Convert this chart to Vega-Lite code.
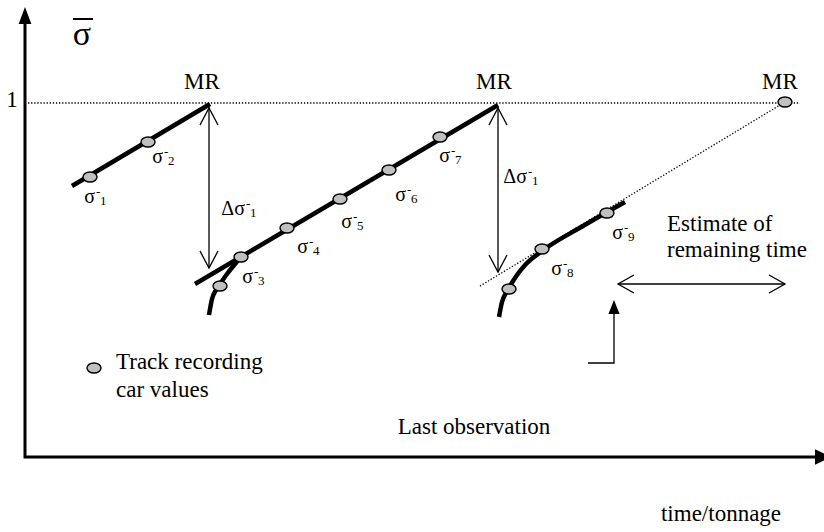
{
  "$schema": "https://vega.github.io/schema/vega-lite/v6.json",
  "width": 824,
  "height": 532,
  "padding": 0,
  "autosize": {"type": "fit", "contains": "padding"},
  "background": "white",
  "config": {"view": {"stroke": null}},
  "datasets": {
    "lines": [
      {"seg": "axes", "kind": "axis", "i": 0, "x": 25, "y": 510},
      {"seg": "axes", "kind": "axis", "i": 1, "x": 25, "y": 75},
      {"seg": "axes", "kind": "axis", "i": 2, "x": 816, "y": 75},
      {"seg": "over", "kind": "over", "i": 0, "x": 73, "y": 513},
      {"seg": "over", "kind": "over", "i": 1, "x": 93, "y": 513},
      {"seg": "ref", "kind": "dot", "i": 0, "x": 28, "y": 429},
      {"seg": "ref", "kind": "dot", "i": 1, "x": 800, "y": 429},
      {"seg": "est", "kind": "dot", "i": 0, "x": 480, "y": 246},
      {"seg": "est", "kind": "dot", "i": 1, "x": 785, "y": 430},
      {"seg": "s1", "kind": "thick", "i": 0, "x": 72, "y": 346},
      {"seg": "s1", "kind": "thick", "i": 1, "x": 210, "y": 428},
      {"seg": "s2", "kind": "thick", "i": 0, "x": 195, "y": 248},
      {"seg": "s2", "kind": "thick", "i": 1, "x": 498, "y": 427},
      {"seg": "c1", "kind": "curve", "i": 0, "x": 209, "y": 217},
      {"seg": "c1", "kind": "curve", "i": 1, "x": 212, "y": 233},
      {"seg": "c1", "kind": "curve", "i": 2, "x": 216, "y": 242},
      {"seg": "c1", "kind": "curve", "i": 3, "x": 220, "y": 248},
      {"seg": "c1", "kind": "curve", "i": 4, "x": 227, "y": 258},
      {"seg": "c1", "kind": "curve", "i": 5, "x": 235, "y": 268},
      {"seg": "c1", "kind": "curve", "i": 6, "x": 241, "y": 275},
      {"seg": "c2", "kind": "curve", "i": 0, "x": 499, "y": 215},
      {"seg": "c2", "kind": "curve", "i": 1, "x": 502, "y": 230},
      {"seg": "c2", "kind": "curve", "i": 2, "x": 506, "y": 239},
      {"seg": "c2", "kind": "curve", "i": 3, "x": 510, "y": 246},
      {"seg": "c2", "kind": "curve", "i": 4, "x": 517, "y": 257},
      {"seg": "c2", "kind": "curve", "i": 5, "x": 526, "y": 268},
      {"seg": "c2", "kind": "curve", "i": 6, "x": 542, "y": 281},
      {"seg": "c2", "kind": "curve", "i": 7, "x": 583, "y": 306},
      {"seg": "c2", "kind": "curve", "i": 8, "x": 625, "y": 330},
      {"seg": "a1", "kind": "thin", "i": 0, "x": 209, "y": 425},
      {"seg": "a1", "kind": "thin", "i": 1, "x": 209, "y": 264},
      {"seg": "a1t", "kind": "thin", "i": 0, "x": 200, "y": 407},
      {"seg": "a1t", "kind": "thin", "i": 1, "x": 209, "y": 424},
      {"seg": "a1t", "kind": "thin", "i": 2, "x": 218, "y": 407},
      {"seg": "a1b", "kind": "thin", "i": 0, "x": 200, "y": 281},
      {"seg": "a1b", "kind": "thin", "i": 1, "x": 209, "y": 264},
      {"seg": "a1b", "kind": "thin", "i": 2, "x": 218, "y": 281},
      {"seg": "a2", "kind": "thin", "i": 0, "x": 498, "y": 425},
      {"seg": "a2", "kind": "thin", "i": 1, "x": 498, "y": 260},
      {"seg": "a2t", "kind": "thin", "i": 0, "x": 489, "y": 407},
      {"seg": "a2t", "kind": "thin", "i": 1, "x": 498, "y": 424},
      {"seg": "a2t", "kind": "thin", "i": 2, "x": 507, "y": 407},
      {"seg": "a2b", "kind": "thin", "i": 0, "x": 489, "y": 277},
      {"seg": "a2b", "kind": "thin", "i": 1, "x": 498, "y": 260},
      {"seg": "a2b", "kind": "thin", "i": 2, "x": 507, "y": 277},
      {"seg": "h", "kind": "thin", "i": 0, "x": 618, "y": 248},
      {"seg": "h", "kind": "thin", "i": 1, "x": 785, "y": 248},
      {"seg": "hl", "kind": "thin", "i": 0, "x": 634, "y": 257},
      {"seg": "hl", "kind": "thin", "i": 1, "x": 618, "y": 248},
      {"seg": "hl", "kind": "thin", "i": 2, "x": 634, "y": 239},
      {"seg": "hr", "kind": "thin", "i": 0, "x": 769, "y": 257},
      {"seg": "hr", "kind": "thin", "i": 1, "x": 785, "y": 248},
      {"seg": "hr", "kind": "thin", "i": 2, "x": 769, "y": 239},
      {"seg": "up", "kind": "thin", "i": 0, "x": 588, "y": 169},
      {"seg": "up", "kind": "thin", "i": 1, "x": 614, "y": 169},
      {"seg": "up", "kind": "thin", "i": 2, "x": 614, "y": 220}
    ],
    "heads": [
      {"name": "top", "x": 25, "y": 516.5},
      {"name": "right", "x": 823.5, "y": 75},
      {"name": "small", "x": 614, "y": 225}
    ],
    "obs": [
      {"x": 90, "y": 355}, {"x": 148, "y": 390}, {"x": 220, "y": 246},
      {"x": 241, "y": 275}, {"x": 287, "y": 304}, {"x": 340, "y": 333},
      {"x": 389, "y": 362}, {"x": 440, "y": 395}, {"x": 509, "y": 243},
      {"x": 542, "y": 283}, {"x": 607, "y": 319}, {"x": 785, "y": 430},
      {"x": 94, "y": 164}
    ],
    "sig": [
      {"x": 95, "y": 329, "base": "σ", "sub": "1"},
      {"x": 163, "y": 369, "base": "σ", "sub": "2"},
      {"x": 253, "y": 249, "base": "σ", "sub": "3"},
      {"x": 308, "y": 279, "base": "σ", "sub": "4"},
      {"x": 352, "y": 304, "base": "σ", "sub": "5"},
      {"x": 406, "y": 331, "base": "σ", "sub": "6"},
      {"x": 450, "y": 370, "base": "σ", "sub": "7"},
      {"x": 562, "y": 257, "base": "σ", "sub": "8"},
      {"x": 623, "y": 293, "base": "σ", "sub": "9"},
      {"x": 245, "y": 317, "base": "Δσ", "sub": "1"},
      {"x": 527, "y": 349, "base": "Δσ", "sub": "1"}
    ],
    "ctext": [
      {"x": 202, "y": 443, "label": "MR"},
      {"x": 494, "y": 443, "label": "MR"},
      {"x": 780, "y": 443, "label": "MR"},
      {"x": 12, "y": 425, "label": "1"},
      {"x": 474, "y": 98, "label": "Last observation"},
      {"x": 721, "y": 11, "label": "time/tonnage"}
    ],
    "ltext": [
      {"x": 667, "y": 301, "label": "Estimate of"},
      {"x": 667, "y": 275, "label": "remaining time"},
      {"x": 116, "y": 163, "label": "Track recording"},
      {"x": 116, "y": 135, "label": "car values"}
    ],
    "big": [
      {"x": 82, "y": 487, "label": "σ"}
    ]
  },
  "encoding": {
    "x": {"field": "x", "type": "quantitative", "scale": {"domain": [0, 824], "nice": false, "zero": false}, "axis": null},
    "y": {"field": "y", "type": "quantitative", "scale": {"domain": [0, 532], "nice": false, "zero": false}, "axis": null}
  },
  "layer": [
    {
      "data": {"name": "lines"},
      "transform": [{"filter": "datum.kind === 'axis'"}],
      "mark": {"type": "line", "color": "black", "strokeWidth": 3, "strokeJoin": "miter", "strokeCap": "butt"},
      "encoding": {"detail": {"field": "seg"}, "order": {"field": "i"}}
    },
    {
      "data": {"name": "lines"},
      "transform": [{"filter": "datum.kind === 'over'"}],
      "mark": {"type": "line", "color": "black", "strokeWidth": 2},
      "encoding": {"detail": {"field": "seg"}, "order": {"field": "i"}}
    },
    {
      "data": {"name": "lines"},
      "transform": [{"filter": "datum.kind === 'dot'"}],
      "mark": {"type": "line", "color": "black", "strokeWidth": 1.3, "strokeDash": [1.3, 1.8]},
      "encoding": {"detail": {"field": "seg"}, "order": {"field": "i"}}
    },
    {
      "data": {"name": "lines"},
      "transform": [{"filter": "datum.kind === 'thin'"}],
      "mark": {"type": "line", "color": "black", "strokeWidth": 1.3, "strokeJoin": "miter"},
      "encoding": {"detail": {"field": "seg"}, "order": {"field": "i"}}
    },
    {
      "data": {"name": "lines"},
      "transform": [{"filter": "datum.kind === 'thick'"}],
      "mark": {"type": "line", "color": "black", "strokeWidth": 4.5, "strokeCap": "butt"},
      "encoding": {"detail": {"field": "seg"}, "order": {"field": "i"}}
    },
    {
      "data": {"name": "lines"},
      "transform": [{"filter": "datum.kind === 'curve'"}],
      "mark": {"type": "line", "color": "black", "strokeWidth": 4.5, "strokeCap": "butt", "interpolate": "monotone"},
      "encoding": {"detail": {"field": "seg"}, "order": {"field": "i"}}
    },
    {
      "data": {"name": "heads"},
      "transform": [{"filter": "datum.name === 'top'"}],
      "mark": {"type": "point", "shape": "M0,-1L0.75,1L-0.75,1Z", "size": 289, "filled": true, "color": "black", "opacity": 1, "strokeWidth": 0}
    },
    {
      "data": {"name": "heads"},
      "transform": [{"filter": "datum.name === 'right'"}],
      "mark": {"type": "point", "shape": "M1,0L-1,-0.9L-1,0.9Z", "size": 289, "filled": true, "color": "black", "opacity": 1, "strokeWidth": 0, "clip": true}
    },
    {
      "data": {"name": "heads"},
      "transform": [{"filter": "datum.name === 'small'"}],
      "mark": {"type": "point", "shape": "M0,-1L0.8,1L-0.8,1Z", "size": 196, "filled": true, "color": "black", "opacity": 1, "strokeWidth": 0}
    },
    {
      "data": {"name": "obs"},
      "mark": {"type": "point", "shape": "M-1,0A1,0.72,0,1,1,1,0A1,0.72,0,1,1,-1,0Z", "size": 196, "filled": true, "fill": "#c0c0c0", "stroke": "black", "strokeWidth": 1.4, "opacity": 1, "fillOpacity": 1, "strokeOpacity": 1}
    },
    {
      "data": {"name": "sig"},
      "mark": {"type": "text", "align": "right", "baseline": "alphabetic", "font": "Liberation Serif", "fontSize": 20, "color": "black"},
      "encoding": {"text": {"field": "base"}}
    },
    {
      "data": {"name": "sig"},
      "mark": {"type": "text", "align": "left", "baseline": "alphabetic", "font": "Liberation Serif", "fontSize": 13, "color": "black", "dx": 1, "dy": -7, "text": "-"}
    },
    {
      "data": {"name": "sig"},
      "mark": {"type": "text", "align": "left", "baseline": "alphabetic", "font": "Liberation Serif", "fontSize": 13, "color": "black", "dx": 5, "dy": 2},
      "encoding": {"text": {"field": "sub"}}
    },
    {
      "data": {"name": "ctext"},
      "mark": {"type": "text", "align": "center", "baseline": "alphabetic", "font": "Liberation Serif", "fontSize": 23, "color": "black"},
      "encoding": {"text": {"field": "label"}}
    },
    {
      "data": {"name": "ltext"},
      "mark": {"type": "text", "align": "left", "baseline": "alphabetic", "font": "Liberation Serif", "fontSize": 23, "color": "black"},
      "encoding": {"text": {"field": "label"}}
    },
    {
      "data": {"name": "big"},
      "mark": {"type": "text", "align": "center", "baseline": "alphabetic", "font": "Liberation Serif", "fontSize": 34, "color": "black"},
      "encoding": {"text": {"field": "label"}}
    }
  ]
}
